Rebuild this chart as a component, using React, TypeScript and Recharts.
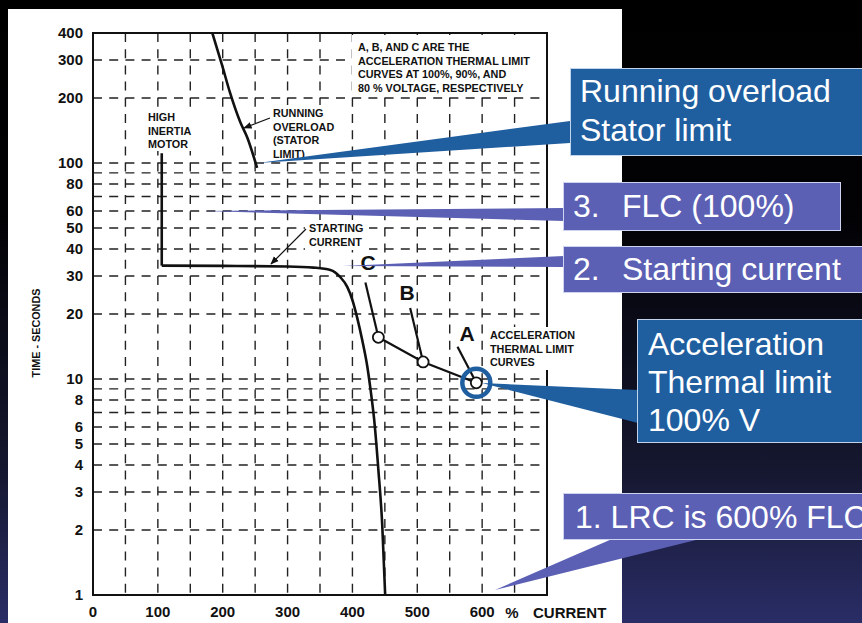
import React from "react";
import {
  LineChart,
  Line,
  XAxis,
  YAxis,
  CartesianGrid,
  ReferenceArea,
  ReferenceDot,
} from "recharts";

const FONT = "'Liberation Sans', Arial, Helvetica, sans-serif";
const BLUE = "#1f5e9f";
const PURPLE = "#5b60b4";

// axis ticks
const xTicks = [0, 50, 100, 150, 200, 250, 300, 350, 400, 450, 500, 550, 600, 650, 700];
const xLabels = [0, 100, 200, 300, 400, 500, 600];
const yTicks = [1, 2, 3, 4, 5, 6, 7, 8, 9, 10, 20, 30, 40, 50, 60, 70, 80, 90, 100, 200, 300, 400];
const yLabels = [1, 2, 3, 4, 5, 6, 8, 10, 20, 30, 40, 50, 60, 80, 100, 200, 300, 400];

// running overload (stator limit)
const overloadCurrent = [184, 199, 211, 227, 238, 253];
const overloadTime = [400, 284, 213, 155, 131, 95];

// high inertia motor: vertical part, then starting current curve
const inertiaCurrent = [106, 106];
const inertiaTime = [111, 33.5];
const startCurrent = [106, 200, 300, 340, 366, 381, 392, 400, 407, 415, 423, 428, 433.5, 440, 446, 450.5];
const startTime = [33.5, 33.4, 33.2, 32.8, 32, 29.7, 26.7, 23.2, 19.4, 15.2, 11.4, 8.9, 6.5, 3.8, 2.1, 1];

// acceleration thermal limit curves (C = 80%, B = 90%, A = 100% voltage)
const cCurrent = [420, 440];
const cTime = [28, 15.6];
const bCurrent = [489, 509];
const bTime = [21.3, 12];
const aCurrent = [562, 591];
const aTime = [14.1, 9.6];
const limitCurrent = [440, 509, 591];
const limitTime = [15.6, 12, 9.6];

const zip = (xs: number[], ys: number[]) => xs.map((x, i) => ({ x, y: ys[i] }));

const overloadData = zip(overloadCurrent, overloadTime);
const inertiaData = zip(inertiaCurrent, inertiaTime);
const startData = zip(startCurrent, startTime);
const cData = zip(cCurrent, cTime);
const bData = zip(bCurrent, bTime);
const aData = zip(aCurrent, aTime);
const limitData = zip(limitCurrent, limitTime);

const tickStyle = { fontSize: 15, fill: "#111", fontFamily: FONT, fontWeight: 700 };
const noteStyle: React.CSSProperties = { fontSize: 10.8, fill: "#111", fontFamily: FONT, fontWeight: 700 };

const Note = ({ x, y, lines, step = 13.7 }: { x: number; y: number; lines: string[]; step?: number }) => (
  <g>
    {lines.map((t, i) => (
      <text key={i} x={x} y={y + i * step} style={noteStyle}>
        {t}
      </text>
    ))}
  </g>
);

const box = (left: number, top: number, width: number, height: number, bg: string): React.CSSProperties => ({
  position: "absolute",
  left,
  top,
  width,
  height,
  background: bg,
  border: "1px solid rgba(235,240,255,0.8)",
  boxSizing: "border-box",
  color: "#fff",
  fontFamily: FONT,
  fontSize: 32,
  lineHeight: "38px",
  whiteSpace: "nowrap",
});

const App = () => {
  return (
    <div
      style={{
        position: "absolute",
        left: 0,
        top: 0,
        width: 862,
        height: 623,
        overflow: "hidden",
        background: "linear-gradient(to bottom, #000 0%, #020205 35%, #15172f 75%, #2a2d66 100%)",
      }}
    >
      <div style={{ position: "absolute", left: 8, top: 9, width: 614, height: 614, background: "#fff" }} />
      <div style={{ position: "absolute", left: 0, top: 0 }}>
        <LineChart width={862} height={623} margin={{ top: 33, right: 315, bottom: 0, left: 0 }}>
          <CartesianGrid stroke="#222" strokeWidth={1.4} strokeDasharray="9 7.2" />
          <XAxis
            type="number"
            dataKey="x"
            domain={[0, 700]}
            ticks={xTicks}
            interval={0}
            allowDataOverflow
            axisLine={false}
            tickLine={false}
            height={28}
            tickMargin={5}
            tick={tickStyle}
            tickFormatter={(v: number) => (xLabels.includes(v) ? String(v) : "")}
          />
          <YAxis
            type="number"
            scale="log"
            domain={[1, 400]}
            ticks={yTicks}
            interval={0}
            allowDataOverflow
            axisLine={false}
            tickLine={false}
            width={93}
            tickMargin={4}
            tick={tickStyle}
            tickFormatter={(v: number) => (yLabels.includes(v) ? String(v) : "")}
          />
          <ReferenceArea x1={0} x2={700} y1={1} y2={400} fill="none" stroke="#111" strokeWidth={2} />
          <Line data={overloadData} dataKey="y" type="monotone" stroke="#111" strokeWidth={2.6} dot={false} isAnimationActive={false} />
          <Line data={inertiaData} dataKey="y" type="linear" stroke="#111" strokeWidth={2.6} dot={false} isAnimationActive={false} />
          <Line data={startData} dataKey="y" type="monotone" stroke="#111" strokeWidth={2.6} dot={false} isAnimationActive={false} />
          <Line data={cData} dataKey="y" type="linear" stroke="#111" strokeWidth={2.2} dot={false} isAnimationActive={false} />
          <Line data={bData} dataKey="y" type="linear" stroke="#111" strokeWidth={2.2} dot={false} isAnimationActive={false} />
          <Line data={aData} dataKey="y" type="linear" stroke="#111" strokeWidth={2.2} dot={false} isAnimationActive={false} />
          <Line
            data={limitData}
            dataKey="y"
            type="linear"
            stroke="#111"
            strokeWidth={2.2}
            dot={{ r: 5.5, fill: "#fff", stroke: "#111", strokeWidth: 1.8 }}
            isAnimationActive={false}
          />
          <ReferenceDot x={591} y={9.6} r={14} fill="none" stroke={BLUE} strokeWidth={4.5} />
        </LineChart>
      </div>

      <svg width={862} height={623} style={{ position: "absolute", left: 0, top: 0, pointerEvents: "none" }}>
        <defs>
          <marker id="arr" viewBox="0 0 10 10" refX="9" refY="5" markerWidth="7" markerHeight="7" orient="auto">
            <path d="M0,1 L10,5 L0,9 z" fill="#111" />
          </marker>
        </defs>

        {/* notes printed on the chart */}
        <rect x={352} y={35} width={193} height={61} fill="#fff" />
        <Note x={358} y={51} lines={["A, B, AND C ARE THE", "ACCELERATION THERMAL LIMIT", "CURVES AT 100%, 90%, AND", "80 % VOLTAGE, RESPECTIVELY"]} />
        <rect x={145} y={108} width={50} height={43} fill="#fff" />
        <Note x={148} y={121} lines={["HIGH", "INERTIA", "MOTOR"]} />
        <rect x={270} y={105} width={72} height={54} fill="#fff" />
        <Note x={273} y={117} lines={["RUNNING", "OVERLOAD", "(STATOR", "LIMIT)"]} />
        <line x1={270} y1={118} x2={244} y2={128} stroke="#111" strokeWidth={1.2} markerEnd="url(#arr)" />
        <rect x={305} y={220} width={64} height={30} fill="#fff" />
        <Note x={309} y={232} lines={["STARTING", "CURRENT"]} />
        <line x1={306} y1={229} x2={271} y2={264} stroke="#111" strokeWidth={1.2} markerEnd="url(#arr)" />
        <rect x={487} y={327} width={94} height={43} fill="#fff" />
        <Note x={490} y={339} lines={["ACCELERATION", "THERMAL LIMIT", "CURVES"]} />

        <text x={368} y={270} textAnchor="middle" style={{ fontSize: 21, fontWeight: 700, fontFamily: FONT, fill: "#111" }}>C</text>
        <text x={407} y={300} textAnchor="middle" style={{ fontSize: 21, fontWeight: 700, fontFamily: FONT, fill: "#111" }}>B</text>
        <text x={467} y={341} textAnchor="middle" style={{ fontSize: 21, fontWeight: 700, fontFamily: FONT, fill: "#111" }}>A</text>

        <text transform="translate(40,333) rotate(-90)" textAnchor="middle" style={noteStyle}>TIME - SECONDS</text>
        <text x={512} y={618} textAnchor="middle" style={tickStyle}>%</text>
        <text x={533} y={618} style={tickStyle}>CURRENT</text>

        {/* slide call-out pointers */}
        <polygon points="570,121 570,143 258,163" fill={BLUE} />
        <polygon points="564,208 564,221 203,211" fill={PURPLE} />
        <polygon points="564,256 564,267 343,266" fill={PURPLE} />
        <polygon points="638,390 638,423 482,383" fill={BLUE} />
        <polygon points="612,539 700,539 495,590" fill={PURPLE} />
      </svg>

      <div style={box(570, 68, 310, 88, BLUE)}>
        <div style={{ position: "absolute", left: 9, top: 3, lineHeight: "39px" }}>
          Running overload
          <br />
          Stator limit
        </div>
      </div>
      <div style={box(563, 182, 278, 49, PURPLE)}>
        <span style={{ position: "absolute", left: 9, top: 4 }}>3.</span>
        <span style={{ position: "absolute", left: 58, top: 4 }}>FLC (100%)</span>
      </div>
      <div style={box(563, 246, 310, 47, PURPLE)}>
        <span style={{ position: "absolute", left: 9, top: 3 }}>2.</span>
        <span style={{ position: "absolute", left: 58, top: 3 }}>Starting current</span>
      </div>
      <div style={box(637, 319, 240, 124, BLUE)}>
        <div style={{ position: "absolute", left: 10, top: 5 }}>
          Acceleration
          <br />
          Thermal limit
          <br />
          100% V
        </div>
      </div>
      <div style={box(563, 493, 310, 47, PURPLE)}>
        <span style={{ position: "absolute", left: 11, top: 4 }}>1. LRC is 600% FLC</span>
      </div>
    </div>
  );
};

export default App;
